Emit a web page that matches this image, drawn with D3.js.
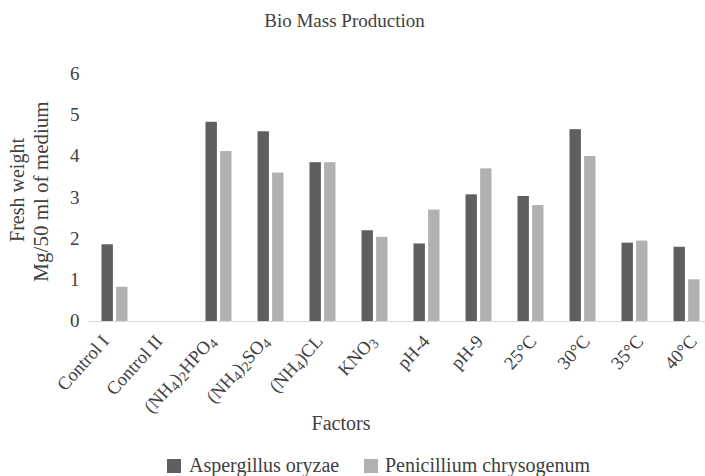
<!DOCTYPE html>
<html><head><meta charset="utf-8">
<script src="https://cdn.jsdelivr.net/npm/d3@7"></script>
<style>
html,body{margin:0;padding:0;background:#fff;}
svg text{font-family:"Liberation Serif","Times New Roman",serif;fill:#404040;}
</style></head>
<body><svg id="c" width="705" height="476" font-family="Liberation Serif, serif"></svg>
<script>
const categories = ["Control I","Control II","(NH_4)_2HPO_4","(NH_4)_2SO_4","(NH_4)CL","KNO_3","pH-4","pH-9","25°C","30°C","35°C","40°C"];
const seriesNames = ["Aspergillus oryzae","Penicillium chrysogenum"];
const aspergillus = [1.86,0,4.83,4.6,3.85,2.2,1.88,3.07,3.03,4.65,1.9,1.8];
const penicillium = [0.83,0,4.12,3.6,3.85,2.04,2.7,3.7,2.81,4.0,1.95,1.01];
const yTicks = [0,1,2,3,4,5,6];
const colors = ["#5f5f5f","#b1b1b1"];

const svg = d3.select("#c");
const x0 = d3.scaleBand().domain(categories).range([88,712]).padding(0);
const x1 = d3.scaleBand().domain(seriesNames).range([13.5,39.5]).paddingInner(0.22);
const xLab = d3.scalePoint().domain(categories).range([110,698]);
const y = d3.scaleLinear().domain([0,6]).range([321,73.5]);
const values = [aspergillus, penicillium];

// title
svg.append("text").attr("x",344.5).attr("y",27).attr("text-anchor","middle")
  .style("font-size","19px").text("Bio Mass Production");

// y ticks
svg.append("g").selectAll("text").data(yTicks).join("text")
  .attr("x",79.5).attr("y",d=>y(d)).attr("dy","0.34em").attr("text-anchor","end")
  .style("font-size","19px").text(d=>d);

// axis line
svg.append("line").attr("x1",88).attr("x2",705).attr("y1",y(0)+0.5).attr("y2",y(0)+0.5)
  .attr("stroke","#d9d9d9").attr("stroke-width",1);

// bars
const g = svg.append("g");
categories.forEach((c,i)=>{
  seriesNames.forEach((s,j)=>{
    const v = values[j][i];
    if(v<=0) return;
    g.append("rect").attr("x",x0(c)+x1(s)).attr("width",x1.bandwidth())
      .attr("y",y(v)).attr("height",y(0)-y(v)).attr("fill",colors[j]);
  });
});

// x labels
function addLabel(sel, str){
  const parts = str.split(/(_\d)/).filter(p=>p.length);
  let sub=false;
  parts.forEach(p=>{
    if(p[0]==="_"){
      sel.append("tspan").attr("dy","0.22em").style("font-size","14px").text(p.slice(1));
      sub=true;
    } else {
      sel.append("tspan").attr("dy", sub? "-0.17em":null).text(p);
      sub=false;
    }
  });
}
const xl = svg.append("g");
categories.forEach(c=>{
  const t = xl.append("text").attr("text-anchor","end")
    .attr("transform",`translate(${xLab(c)},${342}) rotate(-48)`)
    .style("font-size","18.5px");
  addLabel(t,c);
});

// axis titles
svg.append("text").attr("x",341).attr("y",430).attr("text-anchor","middle")
  .style("font-size","20px").text("Factors");
svg.append("text").attr("transform","translate(24,190) rotate(-90)").attr("text-anchor","middle")
  .style("font-size","20px").text("Fresh weight");
svg.append("text").attr("transform","translate(48,191.5) rotate(-90)").attr("text-anchor","middle")
  .style("font-size","21px").text("Mg/50 ml of medium");

// legend
const leg = [{x:167,tx:189},{x:364,tx:385}];
seriesNames.forEach((s,j)=>{
  svg.append("rect").attr("x",leg[j].x).attr("y",459).attr("width",14).attr("height",14).attr("fill",colors[j]);
  svg.append("text").attr("x",leg[j].tx).attr("y",471.5).style("font-size","20px").text(s);
});
</script></body></html>
